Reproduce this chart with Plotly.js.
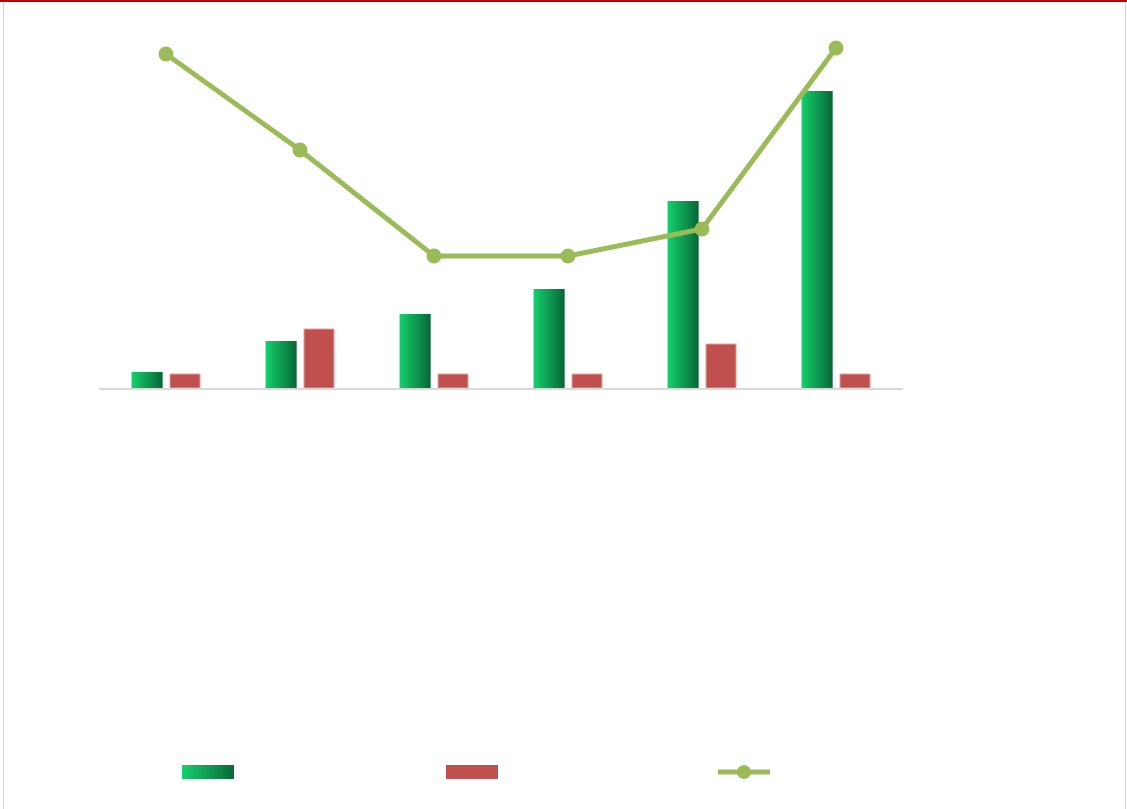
<!DOCTYPE html>
<html>
<head>
<meta charset="utf-8">
<script src="https://cdn.plot.ly/plotly-3.0.1.min.js"></script>
<style>
html,body{margin:0;padding:0;background:#fff;overflow:hidden;}
#frame{position:absolute;left:0;top:0;width:1127px;height:809px;}
#border{position:absolute;left:0;top:0;width:1127px;height:2px;background:#c00000;z-index:5;}
#lb{position:absolute;left:3px;top:2px;width:1px;height:807px;background:#d4d4d4;z-index:5;}
#rb{position:absolute;left:1125px;top:2px;width:1px;height:807px;background:#d4d4d4;z-index:5;}
#chart{position:absolute;left:0;top:0;width:1127px;height:809px;}
</style>
</head>
<body>
<div id="frame">
<div id="chart"></div>
<div id="border"></div>
<div id="lb"></div>
<div id="rb"></div>
</div>
<script>
// ---- data ----
const categories = ["1", "2", "3", "4", "5", "6"];
const seriesA = [16, 47, 74, 99, 187, 297];   // green gradient bars
const seriesB = [14, 59, 14, 14, 44, 14];     // red bars
const seriesC = [334, 238, 132, 132, 159, 340]; // green line

// ---- styling ----
const gradLeft = [22, 208, 110];
const gradRight = [8, 104, 54];
const N = 31;
function mix(t){
  const c = gradLeft.map((v,i)=>Math.round(v + (gradRight[i]-v)*t));
  return 'rgb(' + c.join(',') + ')';
}
const greenWidth = 0.231, greenOffset = -0.257;
const redWidth = 0.224, redOffset = 0.030;

const traces = [];
for (let i = 0; i < N; i++) {
  const w = greenWidth / N;
  const extra = (i < N - 1) ? w * 0.8 : 0;
  traces.push({
    type: 'bar', x: categories, y: seriesA,
    width: w + extra, offset: greenOffset + i * w,
    marker: {color: mix((i + 0.5) / N), line: {width: 0}},
    showlegend: false, hoverinfo: 'skip'
  });
}
traces.push({
  type: 'bar', x: categories, y: seriesB,
  width: redWidth, offset: redOffset,
  marker: {color: '#c0504d', line: {color: '#e3a3a2', width: 1}},
  showlegend: false, hoverinfo: 'skip'
});
traces.push({
  type: 'scatter', mode: 'lines+markers', x: categories, y: seriesC,
  line: {color: '#9bbb59', width: 5},
  marker: {color: '#9bbb59', size: 15},
  showlegend: false, hoverinfo: 'skip', cliponaxis: false
});

// pixel -> paper helpers for legend swatches
const L = 99, R = 903, T = 28, B = 388;
const px = x => (x - L) / (R - L);
const py = y => (B - y) / (B - T);

const shapes = [];
const LN = 26;
for (let i = 0; i < LN; i++) {
  const x0 = 182 + (52 / LN) * i;
  const ext = (i < LN - 1) ? 1.5 : 0;
  shapes.push({type: 'rect', xref: 'paper', yref: 'paper',
    x0: px(x0), x1: px(x0 + 52 / LN + ext), y0: py(779), y1: py(765),
    fillcolor: mix((i + 0.5) / LN), line: {width: 0}});
}
shapes.push({type: 'rect', xref: 'paper', yref: 'paper',
  x0: px(446), x1: px(498), y0: py(779), y1: py(765),
  fillcolor: '#c0504d', line: {width: 0}});
shapes.push({type: 'line', xref: 'paper', yref: 'paper',
  x0: px(718), x1: px(770), y0: py(772), y1: py(772),
  line: {color: '#9bbb59', width: 5}});
shapes.push({type: 'circle', xref: 'paper', yref: 'paper',
  x0: px(737), x1: px(751), y0: py(779), y1: py(765),
  fillcolor: '#9bbb59', line: {width: 0}});

const layout = {
  width: 1127, height: 809,
  margin: {l: L, r: 1127 - R, t: T, b: 809 - B, pad: 0},
  paper_bgcolor: '#ffffff', plot_bgcolor: '#ffffff',
  barmode: 'overlay',
  showlegend: false,
  hovermode: false,
  xaxis: {type: 'category', range: [-0.5, 5.5], showticklabels: false, ticks: '',
    showgrid: false, zeroline: false, showline: true, linecolor: '#d9d9d9', linewidth: 2, fixedrange: true},
  yaxis: {range: [0, 360], visible: false, showgrid: false, zeroline: false, fixedrange: true},
  shapes: shapes
};

Plotly.newPlot('chart', traces, layout, {displayModeBar: false, staticPlot: true});
</script>
</body>
</html>
